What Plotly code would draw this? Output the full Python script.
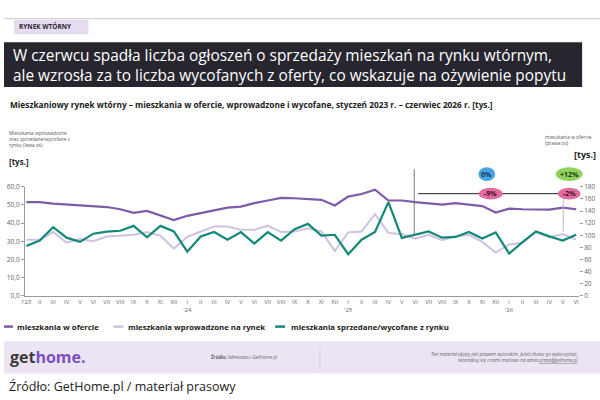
import plotly.graph_objects as go

# ---------------- data ----------------
months = ["I'23", "II", "III", "IV", "V", "VI", "VII", "VIII", "IX", "X", "XI", "XII",
          "I<br>'24", "II", "III", "IV", "V", "VI", "VII", "VIII", "IX", "X", "XI", "XII",
          "I<br>'25", "II", "III", "IV", "V", "VI", "VII", "VIII", "IX", "X", "XI", "XII",
          "I<br>'26", "II", "III", "IV", "V", "VI"]

w_ofercie = [154.7, 154.7, 152.1, 150.5, 149.8, 148.2, 146.6, 142.9, 136.9, 140.1, 133.2, 125.1,
             132.1, 136.9, 141.3, 145.6, 147.2, 153.1, 157.4, 161.8, 161.1, 160.0, 158.5, 149.3,
             163.9, 168.2, 175.2, 157.4, 157.4, 154.7, 153.0, 150.5, 153.0, 151.0, 148.2, 137.6,
             144.0, 142.9, 142.9, 142.4, 145.6, 142.9]

wprowadzone = [30.9, 30.9, 35.1, 29.3, 31.2, 30.1, 32.6, 33.1, 33.6, 35.1, 33.1, 26.0,
               32.5, 35.4, 38.1, 38.1, 36.3, 36.3, 38.6, 35.1, 35.4, 37.2, 35.4, 24.6,
               34.9, 35.4, 44.9, 34.6, 34.0, 31.5, 33.6, 30.6, 32.7, 33.6, 29.7, 23.8,
               28.3, 29.2, 34.9, 32.2, 34.0, 30.9]

sprzedane = [27.4, 30.4, 37.8, 32.0, 29.7, 34.2, 35.3, 35.8, 38.5, 32.2, 38.5, 35.4,
             24.3, 32.7, 35.1, 30.9, 35.1, 28.8, 35.1, 30.4, 36.7, 39.6, 33.1, 33.6,
             22.9, 30.9, 35.1, 51.6, 31.9, 33.6, 35.4, 32.0, 32.4, 35.1, 31.5, 34.9,
             23.3, 29.5, 35.4, 32.7, 30.4, 33.6]

left_ticks = [0, 10, 20, 30, 40, 50, 60]
left_ticktext = ["0,0", "10,0", "20,0", "30,0", "40,0", "50,0", "60,0"]
right_ticks = [0, 20, 40, 60, 80, 100, 120, 140, 160, 180]

names = ["mieszkania w ofercie", "mieszkania wprowadzone na rynek",
         "mieszkania sprzedane/wycofane z rynku"]
colors = ["#7d5ba8", "#cfc2e2", "#13897a"]

# ---------------- helpers (pixel -> paper) ----------------
W, H = 600, 400
def px(x):
    return x / W
def py(y):
    return 1 - y / H

FONT = "Open Sans"
x_idx = list(range(len(months)))

fig = go.Figure()
fig.add_trace(go.Scatter(x=x_idx, y=wprowadzone, mode="lines", name=names[1],
                         line=dict(color=colors[1], width=2), yaxis="y"))
fig.add_trace(go.Scatter(x=x_idx, y=w_ofercie, mode="lines", name=names[0],
                         line=dict(color=colors[0], width=2.2), yaxis="y2"))
fig.add_trace(go.Scatter(x=x_idx, y=sprzedane, mode="lines", name=names[2],
                         line=dict(color=colors[2], width=2.2), yaxis="y"))

x0px, step = 22.5, 13.5
xdom = [px(x0px - 0.1 * step), px(x0px + 41.2 * step)]
ydom = [py(297.5), py(186)]

fig.update_layout(
    width=W, height=H,
    margin=dict(l=0, r=0, t=0, b=0),
    paper_bgcolor="white", plot_bgcolor="white",
    showlegend=False,
    font=dict(family=FONT, color="#333"),
    xaxis=dict(domain=xdom, range=[-0.1, 41.2], tickvals=x_idx, ticktext=months,
               showgrid=False, zeroline=False, showline=True, linecolor="#9a9a9a",
               linewidth=1, ticks="", tickfont=dict(size=6, color="#666")),
    yaxis=dict(domain=ydom, range=[0, 60], tickvals=left_ticks, ticktext=left_ticktext,
               showgrid=False, zeroline=False, showline=True, linecolor="#9a9a9a",
               ticks="outside", ticklen=3, tickcolor="#9a9a9a",
               tickfont=dict(size=6.5, color="#666")),
    yaxis2=dict(domain=ydom, range=[0, 180], overlaying="y", side="right",
                tickvals=right_ticks, showgrid=False, zeroline=False, showline=False,
                ticks="outside", ticklen=3, tickcolor="#9a9a9a",
                tickfont=dict(size=6.5, color="#666")),
)

shapes = []
annots = []

# top rule and category tag
shapes.append(dict(type="line", xref="paper", yref="paper", x0=0, x1=1, y0=py(14), y1=py(14),
                   line=dict(color="#c9c9c9", width=1)))
shapes.append(dict(type="rect", xref="paper", yref="paper", x0=px(10), x1=px(85), y0=py(30), y1=py(15),
                   fillcolor="#e6dcf0", line=dict(width=0)))
annots.append(dict(text="<b>RYNEK WTÓRNY</b>", x=px(13), y=py(22.5), xanchor="left", yanchor="middle",
                   font=dict(size=6.5, color="#2a2833")))

# title box
shapes.append(dict(type="rect", xref="paper", yref="paper", x0=0, x1=px(582), y0=py(84), y1=py(38),
                   fillcolor="#27262f", line=dict(width=0)))
annots.append(dict(text="W czerwcu spadła liczba ogłoszeń o sprzedaży mieszkań na rynku wtórnym,",
                   x=px(7), y=py(52), xanchor="left", yanchor="middle",
                   font=dict(size=15.4, color="white")))
annots.append(dict(text="ale wzrosła za to liczba wycofanych z oferty, co wskazuje na ożywienie popytu",
                   x=px(7), y=py(72), xanchor="left", yanchor="middle",
                   font=dict(size=15.4, color="white")))

# subtitle
annots.append(dict(text="<b>Mieszkaniowy rynek wtórny – mieszkania w ofercie, wprowadzone i wycofane, "
                        "styczeń 2023 r. – czerwiec 2026 r. [tys.]</b>",
                   x=px(4), y=py(102), xanchor="left", yanchor="middle",
                   font=dict(size=8.3, color="#222")))

# axis captions
annots.append(dict(text="Mieszkania wprowadzone<br>oraz sprzedane/wycofane z<br>rynku (lewa oś)",
                   x=px(3), y=py(126), xanchor="left", yanchor="top", align="left",
                   font=dict(size=4.8, color="#555")))
annots.append(dict(text="<b>[tys.]</b>", x=px(3), y=py(160), xanchor="left", yanchor="middle",
                   font=dict(size=8, color="#222")))
annots.append(dict(text="mieszkania w ofercie<br>(prawa oś)",
                   x=px(543), y=py(130), xanchor="left", yanchor="top", align="left",
                   font=dict(size=4.8, color="#555")))
annots.append(dict(text="<b>[tys.]</b>", x=px(598), y=py(153), xanchor="right", yanchor="middle",
                   font=dict(size=9, color="#222")))

# comparison markers
shapes.append(dict(type="line", xref="paper", yref="paper", x0=px(413), x1=px(413), y0=py(168), y1=py(236),
                   line=dict(color="#777", width=1)))
shapes.append(dict(type="line", xref="paper", yref="paper", x0=px(417), x1=px(576), y0=py(193), y1=py(193),
                   line=dict(color="#222", width=1)))
shapes.append(dict(type="line", xref="paper", yref="paper", x0=px(563), x1=px(563), y0=py(193), y1=py(232),
                   line=dict(color="#bbb", width=1)))

def bubble(cx, cy, w, h, fill, text, tcolor):
    shapes.append(dict(type="circle", xref="paper", yref="paper",
                       x0=px(cx - w / 2), x1=px(cx + w / 2), y0=py(cy + h / 2), y1=py(cy - h / 2),
                       fillcolor=fill, line=dict(width=0)))
    annots.append(dict(text="<b>" + text + "</b>", x=px(cx), y=py(cy), xanchor="center", yanchor="middle",
                       font=dict(size=7, color=tcolor)))

bubble(486, 173, 17, 14, "#45a6e2", "0%", "#1d2f55")
bubble(569, 173, 27, 14, "#8fd35d", "+12%", "#1d3a12")
bubble(490, 193, 24, 12, "#e36a9c", "-9%", "#3a1026")
bubble(569, 193, 23, 12, "#e36a9c", "-2%", "#3a1026")

# manual legend
leg = [(0, 9, 11), (110, 120, 123), (273, 283, 287)]
for (a, b, t), nm, c in zip(leg, names, colors):
    shapes.append(dict(type="line", xref="paper", yref="paper", x0=px(a), x1=px(b), y0=py(329), y1=py(329),
                       line=dict(color=c, width=2.5)))
    annots.append(dict(text="<b>" + nm + "</b>", x=px(t), y=py(329), xanchor="left", yanchor="middle",
                       font=dict(size=7.8, color="#222")))

# footer band
shapes.append(dict(type="rect", xref="paper", yref="paper", x0=0, x1=1, y0=py(377), y1=py(344),
                   fillcolor="#ebe4f2", line=dict(width=0)))
shapes.append(dict(type="line", xref="paper", yref="paper", x0=px(318), x1=px(318), y0=py(372), y1=py(349),
                   line=dict(color="#d8cfe3", width=1)))
annots.append(dict(text="<b><span style='color:#3b3b3b'>get</span><span style='color:#7b4fc4'>home.</span></b>",
                   x=px(4), y=py(360), xanchor="left", yanchor="middle",
                   font=dict(size=16)))
annots.append(dict(text="<b>Źródło:</b> Adresowo i Gethome.pl", x=px(206), y=py(360),
                   xanchor="left", yanchor="middle", font=dict(size=4.5, color="#666")))
annots.append(dict(text="<i>Ten materiał objęty jest prawem autorskim. Jeżeli chcesz go wykorzystać,<br>"
                        "skontaktuj się z nami mailowo na adres <u>prasa@gethome.pl</u></i>",
                   x=px(580), y=py(360), xanchor="right", yanchor="middle", align="right",
                   font=dict(size=4.6, color="#666")))

# source caption
annots.append(dict(text="Źródło: GetHome.pl / materiał prasowy", x=px(3), y=py(390),
                   xanchor="left", yanchor="middle", font=dict(size=12.5, color="#222")))

for a in annots:
    a.setdefault("xref", "paper")
    a.setdefault("yref", "paper")
    a.setdefault("showarrow", False)

fig.update_layout(shapes=shapes, annotations=annots)
fig.write_html("out.html")
